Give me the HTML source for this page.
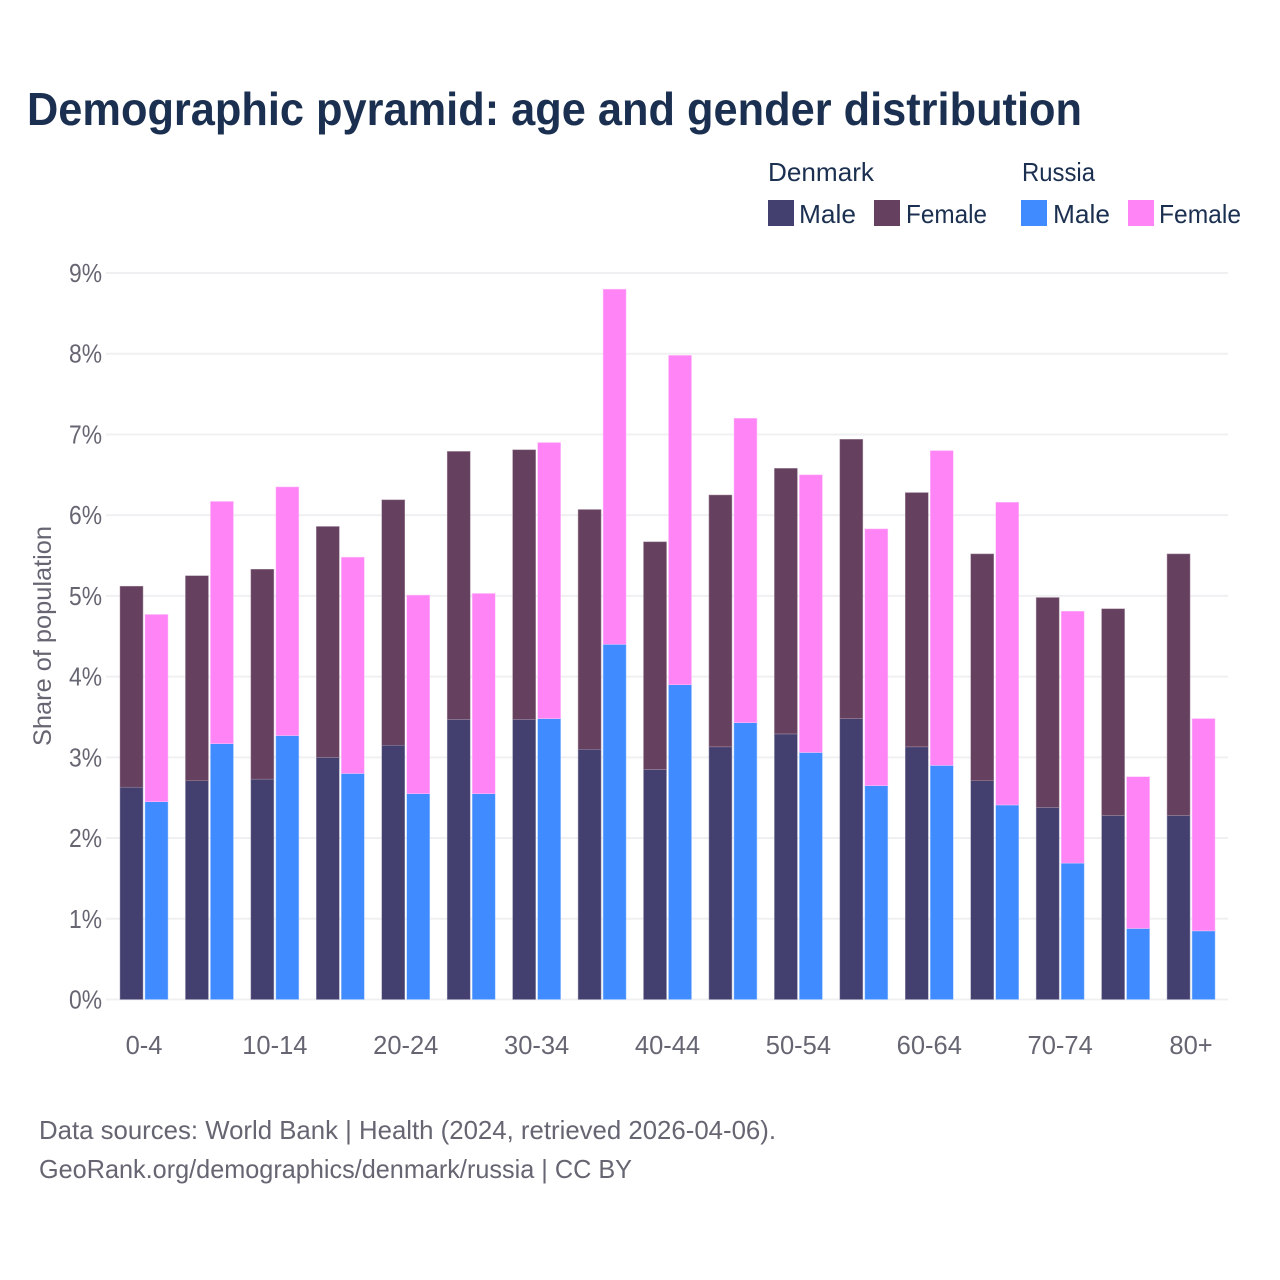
<!DOCTYPE html>
<html lang="en">
<head>
<meta charset="utf-8">
<title>Demographic pyramid</title>
<style>
html,body{margin:0;padding:0;background:#fff;}
svg{display:block;font-family:"Liberation Sans",sans-serif;}
</style>
</head>
<body>
<svg id="chart" width="1280" height="1280" viewBox="0 0 1280 1280" xmlns="http://www.w3.org/2000/svg">
  <rect width="1280" height="1280" fill="#fff"/>
  <text x="27" y="125" font-size="46" font-weight="700" fill="#1b3050" textLength="1055" lengthAdjust="spacingAndGlyphs">Demographic pyramid: age and gender distribution</text>

  <g font-size="26" fill="#1b3050">
    <text x="768" y="181" textLength="106" lengthAdjust="spacingAndGlyphs">Denmark</text>
    <text x="1022" y="181" textLength="73" lengthAdjust="spacingAndGlyphs">Russia</text>
    <rect x="768" y="200" width="26" height="26" fill="#433f6f"/>
    <text x="799" y="223" textLength="57" lengthAdjust="spacingAndGlyphs">Male</text>
    <rect x="874" y="200" width="26" height="26" fill="#66405f"/>
    <text x="906" y="223" textLength="81" lengthAdjust="spacingAndGlyphs">Female</text>
    <rect x="1021" y="200" width="26" height="26" fill="#3f8bff"/>
    <text x="1053" y="223" textLength="57" lengthAdjust="spacingAndGlyphs">Male</text>
    <rect x="1128" y="200" width="26" height="26" fill="#ff85f6"/>
    <text x="1159" y="223" textLength="82" lengthAdjust="spacingAndGlyphs">Female</text>
  </g>

  <g id="grid"></g>
  <g id="bars"></g>
  <g id="yticks" font-size="26" fill="#666673" text-anchor="end"></g>
  <g id="xticks" font-size="25.5" fill="#666673" text-anchor="middle"></g>

  <text transform="translate(51 636) rotate(-90)" font-size="25" fill="#666673" text-anchor="middle" textLength="220" lengthAdjust="spacingAndGlyphs">Share of population</text>

  <text x="39" y="1139" font-size="26" fill="#666673" textLength="737" lengthAdjust="spacingAndGlyphs">Data sources: World Bank | Health (2024, retrieved 2026-04-06).</text>
  <text x="39" y="1178" font-size="26" fill="#666673" textLength="593" lengthAdjust="spacingAndGlyphs">GeoRank.org/demographics/denmark/russia | CC BY</text>
</svg>
<script>
const categories = ["0-4","5-9","10-14","15-19","20-24","25-29","30-34","35-39","40-44","45-49","50-54","55-59","60-64","65-69","70-74","75-79","80+"];
const xTickLabels = ["0-4","10-14","20-24","30-34","40-44","50-54","60-64","70-74","80+"];
const yTickValues = [0,1,2,3,4,5,6,7,8,9];
const denmarkMale = [2.63,2.71,2.73,3.00,3.15,3.47,3.47,3.10,2.85,3.13,3.29,3.48,3.13,2.71,2.38,2.28,2.28];
const denmarkFemale = [2.49,2.54,2.60,2.86,3.04,3.32,3.34,2.97,2.82,3.12,3.29,3.46,3.15,2.81,2.60,2.56,3.24];
const russiaMale = [2.45,3.17,3.27,2.80,2.55,2.55,3.48,4.40,3.90,3.43,3.06,2.65,2.90,2.41,1.69,0.88,0.85];
const russiaFemale = [2.32,3.00,3.08,2.68,2.46,2.48,3.42,4.40,4.08,3.77,3.44,3.18,3.90,3.75,3.12,1.88,2.63];

const NS = "http://www.w3.org/2000/svg";
const plot = {left:106, right:1228, y0:999.5, pxPerUnit:80.72, x0:120, groupStep:65.44, barW:23, barGap:25};
function yScale(v){ return plot.y0 - v * plot.pxPerUnit; }
function xScale(i){ return plot.x0 + i * plot.groupStep; }

const gridLayer = document.getElementById("grid");
const yTickLayer = document.getElementById("yticks");
yTickValues.forEach(function(v){
  const line = document.createElementNS(NS,"line");
  
  
  line.setAttribute("x1", plot.left);
  line.setAttribute("x2", plot.right);
  line.setAttribute("y1", yScale(v));
  line.setAttribute("y2", yScale(v));
  line.setAttribute("stroke", "#f0f0f2");
  line.setAttribute("stroke-width", "2");
  gridLayer.appendChild(line);
  const t = document.createElementNS(NS,"text");
  
  
  t.setAttribute("x", 102);
  t.setAttribute("y", yScale(v) + 9);
  t.setAttribute("textLength", "33");
  t.setAttribute("lengthAdjust", "spacingAndGlyphs");
  t.textContent = v + "%";
  yTickLayer.appendChild(t);
});

const barLayer = document.getElementById("bars");
function addBar(i, offset, base, value, color, edge){
  const r = document.createElementNS(NS,"rect");
  
  
  r.setAttribute("x", xScale(i) + offset);
  r.setAttribute("y", yScale(base + value));
  r.setAttribute("width", plot.barW);
  r.setAttribute("height", value * plot.pxPerUnit);
  r.setAttribute("fill", color);
  r.setAttribute("stroke", edge);
  r.setAttribute("stroke-width", "0.5");
  barLayer.appendChild(r);
}
categories.forEach(function(c, i){
  addBar(i, 0, 0, denmarkMale[i], "#433f6f", "#9a98b4");
  addBar(i, 0, denmarkMale[i], denmarkFemale[i], "#66405f", "#a78fa2");
  addBar(i, plot.barGap, 0, russiaMale[i], "#3f8bff", "#a8cbff");
  addBar(i, plot.barGap, russiaMale[i], russiaFemale[i], "#ff85f6", "#ffc4fb");
});

const xTickLayer = document.getElementById("xticks");
xTickLabels.forEach(function(label){
  const i = categories.indexOf(label);
  const t = document.createElementNS(NS,"text");
  
  
  t.setAttribute("x", xScale(i) + (plot.barGap + plot.barW) / 2);
  t.setAttribute("y", 1054);
  t.textContent = label;
  xTickLayer.appendChild(t);
});
</script>
</body>
</html>
